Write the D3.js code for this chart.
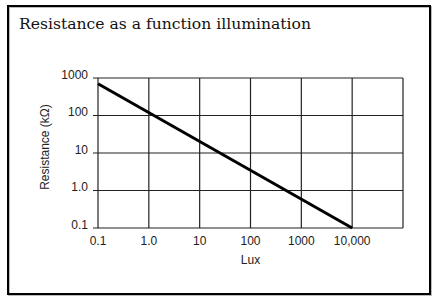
<!DOCTYPE html>
<html>
<head>
<meta charset="utf-8">
<script src="https://cdn.jsdelivr.net/npm/d3@7"></script>
<style>
  body { margin: 0; background: #fff; }
  svg { display: block; }
</style>
</head>
<body>
<div id="chart"></div>
<script>
// chart values
var luxPoints = [0.1, 10000];
var resistancePoints = [700, 0.1];
var xTicks = [0.1, 1, 10, 100, 1000, 10000, 100000];
var xTickLabels = ["0.1", "1.0", "10", "100", "1000", "10,000", ""];
var yTicks = [0.1, 1, 10, 100, 1000];
var yTickLabels = ["0.1", "1.0", "10", "100", "1000"];

var svgWidth = 439;
var svgHeight = 303;

var margin = { top: 78, right: 36, bottom: 75, left: 98 };
var width = svgWidth - margin.left - margin.right;
var height = svgHeight - margin.top - margin.bottom;

var svg = d3.select("#chart")
  .append("svg")
  .attr("width", svgWidth)
  .attr("height", svgHeight);

// outer frame
svg.append("rect")
  .attr("x", 9)
  .attr("y", 7)
  .attr("width", 422)
  .attr("height", 288)
  .attr("fill", "none")
  .attr("stroke", "#bbb")
  .attr("stroke-width", 2);
svg.append("rect")
  .attr("x", 8)
  .attr("y", 6)
  .attr("width", 422)
  .attr("height", 288)
  .attr("fill", "none")
  .attr("stroke", "#000")
  .attr("stroke-width", 2);

// title
svg.append("text")
  .attr("x", 19)
  .attr("y", 29)
  .style("font-family", "'DejaVu Serif', serif")
  .style("font-size", "15.6px")
  .attr("fill", "#111")
  .text("Resistance as a function illumination");

var chartGroup = svg.append("g")
  .attr("transform", `translate(${margin.left}, ${margin.top})`);

var xScale = d3.scaleLog()
  .domain([0.1, 100000])
  .range([0, width]);

var yScale = d3.scaleLog()
  .domain([0.1, 1000])
  .range([height, 0]);

// grid lines
chartGroup.selectAll(".vgrid")
  .data(xTicks)
  .enter()
  .append("line")
  .attr("x1", d => xScale(d))
  .attr("x2", d => xScale(d))
  .attr("y1", 0)
  .attr("y2", height)
  .attr("stroke", "#222")
  .attr("stroke-width", 1.2);

chartGroup.selectAll(".hgrid")
  .data(yTicks)
  .enter()
  .append("line")
  .attr("x1", -5)
  .attr("x2", width)
  .attr("y1", d => yScale(d))
  .attr("y2", d => yScale(d))
  .attr("stroke", "#222")
  .attr("stroke-width", 1.2);

// tick labels
var labelFont = "'Liberation Sans', Arial, sans-serif";

chartGroup.selectAll(".xlabel")
  .data(xTicks)
  .enter()
  .append("text")
  .attr("x", d => xScale(d))
  .attr("y", height + 17)
  .attr("text-anchor", "middle")
  .style("font-family", labelFont)
  .style("font-size", "12px")
  .attr("fill", "#222")
  .text((d, i) => xTickLabels[i]);

chartGroup.selectAll(".ylabel")
  .data(yTicks)
  .enter()
  .append("text")
  .attr("x", -10)
  .attr("y", d => yScale(d))
  .attr("dy", "0.05em")
  .attr("text-anchor", "end")
  .style("font-family", labelFont)
  .style("font-size", "12px")
  .attr("fill", "#222")
  .text((d, i) => yTickLabels[i]);

// axis titles
chartGroup.append("text")
  .attr("x", xScale(100))
  .attr("y", height + 36)
  .attr("text-anchor", "middle")
  .style("font-family", labelFont)
  .style("font-size", "12px")
  .attr("fill", "#222")
  .text("Lux");

chartGroup.append("text")
  .attr("transform", `translate(-49, ${height / 2 - 6}) rotate(-90)`)
  .attr("text-anchor", "middle")
  .style("font-family", labelFont)
  .style("font-size", "12px")
  .attr("fill", "#222")
  .text("Resistance (kΩ)");

// resistance curve
var line = d3.line()
  .x((d, i) => xScale(luxPoints[i]))
  .y(d => yScale(d));

chartGroup.append("path")
  .datum(resistancePoints)
  .attr("d", line)
  .attr("fill", "none")
  .attr("stroke", "#000")
  .attr("stroke-width", 3);
</script>
</body>
</html>
